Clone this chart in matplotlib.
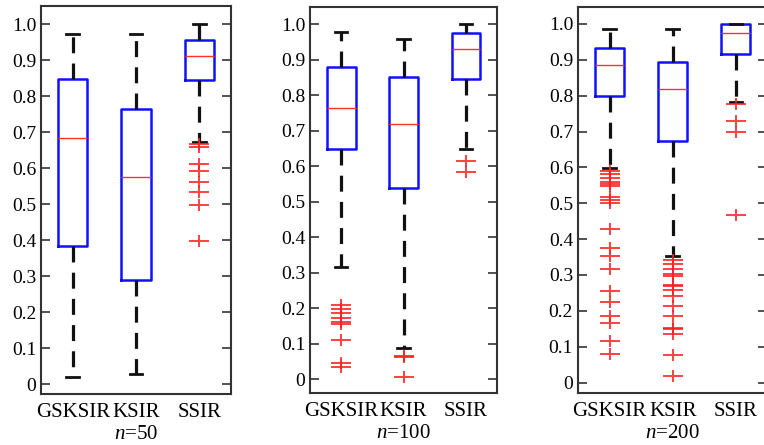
import matplotlib
matplotlib.use("Agg")
import matplotlib.pyplot as plt
from matplotlib.path import Path

methods = ["GSKSIR", "KSIR", "SSIR"]
sample_sizes = [50, 100, 200]

# rows: GSKSIR, KSIR, SSIR ; columns: lower whisker, Q1, median, Q3, upper whisker
box_50 = [[0.022, 0.385, 0.683, 0.848, 0.972],
          [0.029, 0.290, 0.575, 0.763, 0.972],
          [0.674, 0.844, 0.911, 0.957, 1.000]]
box_100 = [[0.317, 0.648, 0.765, 0.880, 0.978],
           [0.087, 0.539, 0.718, 0.852, 0.958],
           [0.648, 0.844, 0.930, 0.974, 1.000]]
box_200 = [[0.599, 0.798, 0.886, 0.934, 0.986],
           [0.354, 0.674, 0.819, 0.894, 0.986],
           [0.783, 0.915, 0.976, 1.000, 1.000]]

fliers_50 = [[],
             [],
             [0.667, 0.660, 0.612, 0.593, 0.563, 0.535, 0.498, 0.398]]
fliers_100 = [[0.208, 0.198, 0.186, 0.172, 0.160, 0.154, 0.110, 0.044, 0.034],
              [0.066, 0.061, 0.007],
              [0.613, 0.582]]
fliers_200 = [[0.591, 0.582, 0.570, 0.560, 0.554, 0.548, 0.517, 0.510, 0.500,
               0.428, 0.376, 0.353, 0.317, 0.256, 0.226, 0.186, 0.167, 0.116, 0.080],
              [0.342, 0.330, 0.316, 0.303, 0.298, 0.272, 0.268, 0.257, 0.241,
               0.214, 0.185, 0.153, 0.149, 0.135, 0.077, 0.018],
              [0.777, 0.730, 0.698, 0.466]]

y_ticks = [0, 0.1, 0.2, 0.3, 0.4, 0.5, 0.6, 0.7, 0.8, 0.9, 1.0]
y_tick_labels = ["0", "0.1", "0.2", "0.3", "0.4", "0.5", "0.6", "0.7", "0.8", "0.9", "1.0"]

plt.rcParams["font.family"] = ["Liberation Serif", "DejaVu Serif"]
plt.rcParams["mathtext.fontset"] = "custom"
plt.rcParams["mathtext.it"] = "Liberation Serif:italic"
plt.rcParams["mathtext.rm"] = "Liberation Serif"

# wide plus sign like the original (horizontal bar longer than vertical)
plus = Path([(-1, 0), (1, 0), (0, -0.6), (0, 0.6)],
            [Path.MOVETO, Path.LINETO, Path.MOVETO, Path.LINETO])

fig = plt.figure(figsize=(7.64, 4.45), dpi=100)

panels = [
    (box_50, fliers_50, [0.0537, 0.115, 0.2487, 0.8715], (-0.026, 1.050)),
    (box_100, fliers_100, [0.4058, 0.117, 0.2448, 0.868], (-0.039, 1.049)),
    (box_200, fliers_200, [0.7565, 0.117, 0.2480, 0.867], (-0.029, 1.047)),
]

for (boxes, fliers, rect, ylim), n in zip(panels, sample_sizes):
    ax = fig.add_axes(rect)
    stats = []
    for name, b, f in zip(methods, boxes, fliers):
        stats.append({"label": name, "whislo": b[0], "q1": b[1], "med": b[2],
                      "q3": b[3], "whishi": b[4], "fliers": f})
    ax.bxp(stats, positions=[1, 2, 3], widths=0.46, capwidths=0.2,
           boxprops=dict(color="#1010ff", linewidth=1.8),
           medianprops=dict(color="#ff3030", linewidth=1.0),
           whiskerprops=dict(color="#111111", linewidth=2.3, linestyle=(0, (5, 3.2))),
           capprops=dict(color="#111111", linewidth=2.0),
           flierprops=dict(marker=plus, markersize=14, markeredgecolor="#ff2020",
                           markeredgewidth=1.4, alpha=0.85, linestyle="none"))
    ax.set_xlim(0.5, 3.5)
    ax.set_ylim(*ylim)
    ax.set_yticks(y_ticks)
    ax.set_yticklabels(y_tick_labels, fontsize=14)
    ax.set_xticks([1, 2, 3])
    ax.set_xticklabels(methods, fontsize=15)
    ax.tick_params(axis="y", direction="in", length=6.5, width=1.2, color="#333333",
                   left=True, right=True, pad=3.5)
    ax.tick_params(axis="x", length=0, pad=6.5)
    for s in ax.spines.values():
        s.set_color("#333333")
        s.set_linewidth(1.5)
    ax.text(0.5, -0.105, "$n$=%d" % n, transform=ax.transAxes,
            ha="center", va="center", fontsize=15)

fig.savefig("out.png", dpi=100)
